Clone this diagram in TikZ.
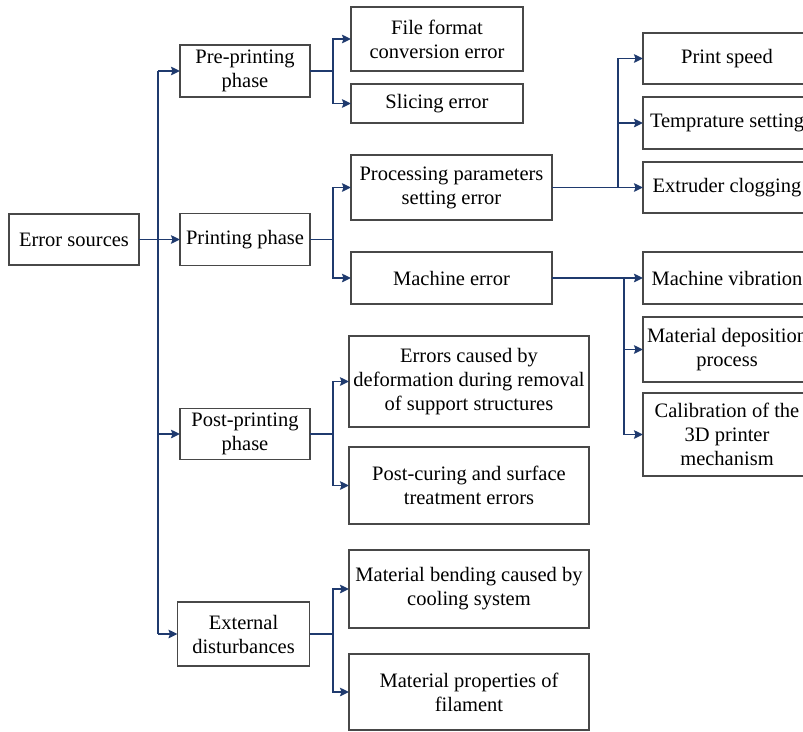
\documentclass[tikz,border=0pt]{standalone}
\usepackage{fontspec}
\setmainfont{Liberation Serif}
\usetikzlibrary{arrows.meta}
\definecolor{conncol}{HTML}{1F3A6E}
\definecolor{boxcol}{HTML}{484848}
\begin{document}
\begin{tikzpicture}[x=1pt,y=-1pt,
  box/.style={draw=boxcol,line width=1.3pt,fill=white,inner sep=0pt,outer sep=0pt,
    align=center,font=\fontsize{20.5}{24}\selectfont},
  line/.style={draw=conncol,line width=1.8pt},
  arr/.style={line,-{Stealth[length=9pt,width=8.5pt,inset=1.5pt]}}]
\useasboundingbox (0,0) rectangle (803,731);
% level 0/1
\node[box,minimum width=130,minimum height=51] (es) at (74,239.5) {Error sources};
\node[box,minimum width=130,minimum height=52] (pre) at (245,71) {Pre-printing\\phase};
\node[box,minimum width=130,minimum height=52] (prt) at (245,239.5) {Printing phase};
\node[box,minimum width=130,minimum height=51] (post) at (245,434) {Post-printing\\phase};
\node[box,minimum width=132,minimum height=64] (ext) at (243.5,634) {External\\disturbances};
% level 2
\node[box,minimum width=172,minimum height=64] (ff) at (437,39) {File format\\conversion error};
\node[box,minimum width=172,minimum height=39] (sl) at (437,103.5) {Slicing error};
\node[box,minimum width=201,minimum height=65] (pp) at (451.5,187.5) {Processing parameters\\setting error};
\node[box,minimum width=201,minimum height=52] (me) at (451.5,278) {Machine error};
\node[box,minimum width=240,minimum height=91] (ec1) at (469,381.5) {Errors caused by\\deformation during removal\\of support structures};
\node[box,minimum width=240,minimum height=77] (pc) at (469,485.5) {Post-curing and surface\\treatment errors};
\node[box,minimum width=240,minimum height=78] (mb) at (469,589) {Material bending caused by\\cooling system};
\node[box,minimum width=240,minimum height=76] (mp) at (469,692) {Material properties of\\filament};
% level 3
\node[box,minimum width=168,minimum height=51] (ps) at (727,58.5) {Print speed};
\node[box,minimum width=168,minimum height=52] (ts) at (727,123) {Temprature setting};
\node[box,minimum width=168,minimum height=51] (ecl) at (727,187.5) {Extruder clogging};
\node[box,minimum width=168,minimum height=52] (mv) at (727,278) {Machine vibration};
\node[box,minimum width=168,minimum height=65] (md) at (727,349.5) {Material deposition\\process};
\node[box,minimum width=168,minimum height=83] (cal) at (727,434.5) {Calibration of the\\3D printer\\mechanism};
% branch coordinates
\coordinate (t0) at (158,0);
\coordinate (t1) at (333,0);
\coordinate (t2) at (618,0);
\coordinate (t3) at (624,0);
% trunk
\draw[line] (t0|-pre.west) -- (t0|-ext.west);
\draw[arr] (es.east) -- (prt.west);
\draw[arr] (t0|-pre.west) -- (pre.west);
\draw[arr] (t0|-post.west) -- (post.west);
\draw[arr] (t0|-ext.west) -- (ext.west);
% pre-printing
\draw[line] (pre.east) -- (t1|-pre.east);
\draw[arr] (t1|-pre.east) |- (ff.west);
\draw[arr] (t1|-pre.east) |- (sl.west);
% printing
\draw[line] (prt.east) -- (t1|-prt.east);
\draw[arr] (t1|-prt.east) |- (pp.west);
\draw[arr] (t1|-prt.east) |- (me.west);
% post-printing
\draw[line] (post.east) -- (t1|-post.east);
\draw[arr] (t1|-post.east) |- (ec1.west);
\draw[arr] (t1|-post.east) |- (pc.west);
% external
\draw[line] (ext.east) -- (t1|-ext.east);
\draw[arr] (t1|-ext.east) |- (mb.west);
\draw[arr] (t1|-ext.east) |- (mp.west);
% processing parameters
\draw[arr] (pp.east) -- (ecl.west);
\draw[arr] (t2|-pp.east) |- (ps.west);
\draw[arr] (t2|-pp.east) |- (ts.west);
% machine error
\draw[arr] (me.east) -- (mv.west);
\draw[arr] (t3|-me.east) |- (md.west);
\draw[arr] (t3|-me.east) |- (cal.west);
\end{tikzpicture}
\end{document}
